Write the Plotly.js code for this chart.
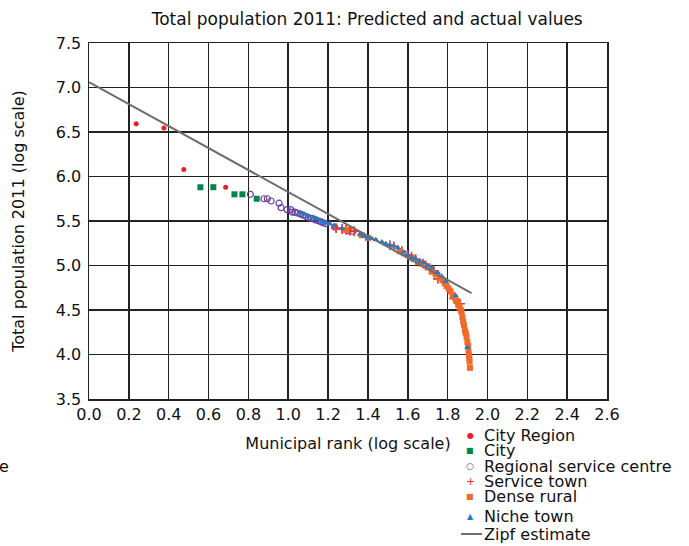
<!DOCTYPE html>
<html>
<head>
<meta charset="utf-8">
<script src="https://cdn.plot.ly/plotly-3.0.1.min.js"></script>
<style>html,body{margin:0;padding:0;background:#fff;}#chart{width:689px;height:546px;}</style>
</head>
<body>
<div id="chart"></div>
<script>
// ---- data ----
const cityRegionX = [0.237, 0.376, 0.476, 0.686];
const cityRegionY = [6.594, 6.545, 6.08, 5.88];

const cityX = [0.559, 0.624, 0.730, 0.770, 0.842];
const cityY = [5.879, 5.880, 5.800, 5.800, 5.750];

const regionalX = [0.810, 0.878, 0.895, 0.914, 0.954, 0.964, 0.994, 1.013, 1.021, 1.033, 1.045, 1.060, 1.075, 1.090, 1.100, 1.115, 1.130, 1.140, 1.155, 1.165, 1.175, 1.190, 1.234, 1.300, 1.325];
const regionalY = [5.800, 5.750, 5.750, 5.725, 5.700, 5.650, 5.628, 5.628, 5.600, 5.600, 5.590, 5.580, 5.565, 5.550, 5.540, 5.530, 5.520, 5.510, 5.500, 5.490, 5.480, 5.470, 5.430, 5.390, 5.385];

const serviceX = [1.240, 1.270, 1.290, 1.310, 1.330, 1.510, 1.530, 1.570, 1.600, 1.619, 1.640, 1.676, 1.690, 1.710, 1.730, 1.751, 1.832, 1.862];
const serviceY = [5.420, 5.410, 5.400, 5.390, 5.385, 5.230, 5.215, 5.160, 5.120, 5.096, 5.070, 5.020, 5.000, 4.970, 4.940, 4.850, 4.630, 4.570];

const ruralX = [1.290, 1.368, 1.400, 1.560, 1.620, 1.652, 1.670, 1.700, 1.720, 1.740, 1.760, 1.775, 1.785, 1.795, 1.805, 1.815, 1.825, 1.835, 1.845, 1.853, 1.860, 1.866, 1.870, 1.874, 1.878, 1.882, 1.887, 1.891, 1.895, 1.899, 1.903, 1.905, 1.907, 1.909, 1.910, 1.912];
const ruralY = [5.400, 5.340, 5.310, 5.160, 5.090, 5.040, 5.020, 4.980, 4.930, 4.900, 4.860, 4.834, 4.800, 4.770, 4.740, 4.710, 4.670, 4.640, 4.600, 4.560, 4.530, 4.500, 4.478, 4.420, 4.370, 4.330, 4.270, 4.240, 4.200, 4.140, 4.100, 4.030, 3.990, 3.955, 3.920, 3.850];

const nicheX = [1.058, 1.080, 1.100, 1.125, 1.140, 1.160, 1.175, 1.190, 1.210, 1.230, 1.270, 1.360, 1.380, 1.400, 1.420, 1.440, 1.470, 1.490, 1.510, 1.530, 1.550, 1.580, 1.600, 1.620, 1.640, 1.660, 1.680, 1.700, 1.720, 1.750, 1.770, 1.790, 1.840, 1.900];
const nicheY = [5.590, 5.575, 5.550, 5.538, 5.525, 5.500, 5.485, 5.475, 5.465, 5.450, 5.415, 5.350, 5.330, 5.310, 5.300, 5.290, 5.265, 5.245, 5.230, 5.220, 5.200, 5.150, 5.120, 5.090, 5.075, 5.050, 5.030, 5.000, 4.970, 4.920, 4.880, 4.820, 4.660, 4.080];

const zipfX = [0.0, 1.92];
const zipfY = [7.06, 4.69];

const seriesNames = ["City Region", "City", "Regional service centre", "Service town", "Dense rural", "Niche town", "Zipf estimate"];
const seriesColors = ["#ee1c25", "#00854a", "#6b3fa0", "#ff2a2a", "#f26a2a", "#2a7ac0", "#6e6e6e"];
const legendSymbols = ["\u25CF", "\u25A0", "\u25CB", "+", "\u25A0", "\u25B2", ""];
const xTickVals = [0.0, 0.2, 0.4, 0.6, 0.8, 1.0, 1.2, 1.4, 1.6, 1.8, 2.0, 2.2, 2.4, 2.6];
const yTickVals = [3.5, 4.0, 4.5, 5.0, 5.5, 6.0, 6.5, 7.0, 7.5];

// ---- layout geometry helpers ----
const W = 689, H = 546, L = 89, R = 607, T = 43, B = 399;
const px = x => (x - L) / (R - L);
const py = y => (B - y) / (B - T);

const FONT = "DejaVu Sans, Verdana, sans-serif";

const traces = [
  {x: cityRegionX, y: cityRegionY, mode: "markers", name: seriesNames[0],
   marker: {color: seriesColors[0], symbol: "circle", size: 5}},
  {x: cityX, y: cityY, mode: "markers", name: seriesNames[1],
   marker: {color: seriesColors[1], symbol: "square", size: 6}},
  {x: regionalX, y: regionalY, mode: "markers", name: seriesNames[2],
   marker: {color: seriesColors[2], symbol: "circle-open", size: 6, line: {width: 1.2}}},
  {x: serviceX, y: serviceY, mode: "markers", name: seriesNames[3],
   marker: {color: seriesColors[3], symbol: "cross-thin-open", size: 7, line: {width: 1.6, color: seriesColors[3]}}},
  {x: ruralX, y: ruralY, mode: "markers", name: seriesNames[4],
   marker: {color: seriesColors[4], symbol: "square", size: 6}},
  {x: nicheX, y: nicheY, mode: "markers", name: seriesNames[5],
   marker: {color: seriesColors[5], symbol: "triangle-up", size: 6}},
  {x: zipfX, y: zipfY, mode: "lines", name: seriesNames[6],
   line: {color: seriesColors[6], width: 2}}
];
traces.forEach(t => { t.showlegend = false; t.hoverinfo = "x+y+name"; });

// custom compact legend (text annotations)
const legendRowsY = [435, 450, 466, 481, 497, 516, 534];
const symSizes = [8, 8, 9, 11, 8, 8, 8];
const annotations = [];
const shapes = [];
seriesNames.forEach((n, i) => {
  annotations.push({xref: "paper", yref: "paper", x: px(483), y: py(legendRowsY[i]),
    xanchor: "left", yanchor: "middle", showarrow: false, text: n, borderpad: 0,
    font: {family: FONT, size: 16, color: "#111"}});
  if (legendSymbols[i]) {
    annotations.push({xref: "paper", yref: "paper", x: px(470), y: py(legendRowsY[i]),
      xanchor: "center", yanchor: "middle", showarrow: false, text: legendSymbols[i], borderpad: 0,
      font: {family: FONT, size: symSizes[i], color: seriesColors[i]}});
  } else {
    shapes.push({type: "line", xref: "paper", yref: "paper",
      x0: px(461), x1: px(482), y0: py(legendRowsY[i]), y1: py(legendRowsY[i]),
      line: {color: seriesColors[i], width: 2}});
  }
});
// stray clipped glyph at the left edge of the reference
annotations.push({xref: "paper", yref: "paper", x: px(4), y: py(466), xanchor: "center", yanchor: "middle",
  showarrow: false, text: "e", font: {family: FONT, size: 16, color: "#111"}});

const layout = {
  width: W, height: H,
  margin: {l: L, r: W - R, t: T, b: H - B, pad: 0},
  paper_bgcolor: "#fff", plot_bgcolor: "#fff",
  font: {family: FONT, size: 16, color: "#111"},
  title: {text: "Total population 2011: Predicted and actual values",
    font: {family: FONT, size: 17, color: "#111"},
    xref: "container", yref: "container", x: 0.533, xanchor: "center", y: 1 - 19 / H, yanchor: "middle"},
  xaxis: {range: [0, 2.6], tickvals: xTickVals, tickformat: ".1f",
    showgrid: true, gridcolor: "#222", gridwidth: 1.5,
    showline: true, linecolor: "#222", linewidth: 1.5, mirror: true,
    zeroline: false, ticks: "", tickfont: {family: FONT, size: 16},
    title: {text: "Municipal rank (log scale)", font: {family: FONT, size: 16}, standoff: 15},
    automargin: false},
  yaxis: {range: [3.5, 7.5], tickvals: yTickVals, tickformat: ".1f",
    showgrid: true, gridcolor: "#222", gridwidth: 1.5,
    showline: true, linecolor: "#222", linewidth: 1.5, mirror: true,
    zeroline: false, ticks: "", tickfont: {family: FONT, size: 16}, ticklabelstandoff: 3,
    title: {text: "Total population 2011 (log scale)", font: {family: FONT, size: 16}, standoff: 27},
    automargin: false},
  showlegend: false,
  annotations: annotations,
  shapes: shapes
};

Plotly.newPlot("chart", traces, layout, {staticPlot: true, displayModeBar: false});
</script>
</body>
</html>
